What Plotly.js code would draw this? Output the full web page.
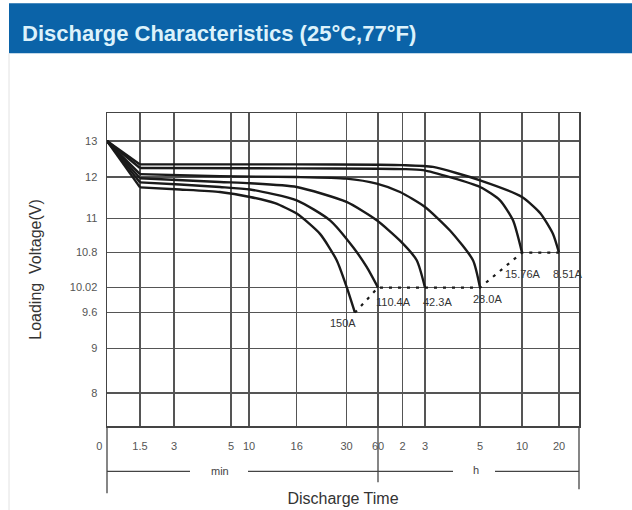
<!DOCTYPE html>
<html>
<head>
<meta charset="utf-8">
<script src="https://cdn.plot.ly/plotly-3.0.1.min.js"></script>
<style>
  html, body { margin: 0; padding: 0; background: #ffffff; }
  #chart { width: 632px; height: 510px; }
</style>
</head>
<body>
<div id="chart"></div>
<script>
// ---- axis definition (non-uniform scales of the original chart) ----
const xTickLabels  = ['0\u00a0\u00a0\u00a0\u00a0\u00a0', '1.5', '3', '5', '10', '16', '30', '60', '2', '3', '5', '10', '20'];
const xTickMinutes = [0, 1.5, 3, 5, 10, 16, 30, 60, 120, 180, 300, 600, 1200];
const xTickPos     = [0, 33, 67, 124, 142, 189.7, 239.5, 271, 295.5, 318, 373, 415, 452];
const xScaleEnd    = 472;

const yTickLabels = ['13', '12', '11', '10.8', '10.02', '9.6', '9', '8'];
const yTickVolts  = [13, 12, 11, 10.8, 10.02, 9.6, 9, 8];
const yTickPos    = [285, 249, 207.4, 173.4, 138.4, 113.4, 77.4, 33];
const yScaleEnd   = 313;

// ---- discharge curves: time in minutes, voltage in V ----
const curveNames = ['150A', '110.4A', '42.3A', '28.0A', '15.76A', '8.51A'];

const t150  = [0, 1.5, 3.21, 4.61, 10.13, 13.27, 16, 22.55, 27.24, 30.2, 38];
const v150  = [13, 11.75, 11.70, 11.64, 11.52, 11.37, 11.12, 10.91, 10.63, 10.03, 9.6];

const t110  = [0, 1.5, 3.21, 4.61, 10.13, 16, 25.36, 36.5, 49.2, 60];
const v110  = [13, 11.87, 11.82, 11.76, 11.70, 11.44, 10.99, 10.83, 10.48, 10.02];

const t42   = [0, 1.5, 4.61, 10.13, 16, 30, 58.8, 113.9, 157.9, 180];
const v42   = [13, 11.97, 11.88, 11.85, 11.76, 11.40, 10.99, 10.87, 10.63, 10.02];

const t28   = [0, 1.5, 4.61, 16, 30, 58.8, 113.9, 180, 234.5, 284.7, 300];
const v28   = [13, 12.08, 12.02, 12.0, 11.96, 11.84, 11.64, 11.28, 10.93, 10.63, 10.02];

const t1576 = [0, 1.5, 16, 60, 120, 174.7, 300, 442.9, 535.7, 600];
const v1576 = [13, 12.25, 12.24, 12.23, 12.22, 12.19, 11.76, 11.44, 10.99, 10.8];

const t851  = [0, 1.5, 16, 60, 120, 197.5, 300, 600, 896.8, 1102.7, 1200];
const v851  = [13, 12.35, 12.35, 12.34, 12.33, 12.28, 11.92, 11.52, 11.13, 10.91, 10.8];

const curveTimes = [t150, t110, t42, t28, t1576, t851];
const curveVolts = [v150, v110, v42, v28, v1576, v851];

// ---- piecewise scales ----
function interp(v, from, to) {
  const asc = from[from.length - 1] > from[0];
  for (let i = 0; i < from.length - 1; i++) {
    const a = from[i], b = from[i + 1];
    const inSeg = asc ? (v >= a && v <= b) : (v <= a && v >= b);
    if (inSeg) return to[i] + (v - a) / (b - a) * (to[i + 1] - to[i]);
  }
  const n = from.length;
  return to[n - 2] + (v - from[n - 2]) / (from[n - 1] - from[n - 2]) * (to[n - 1] - to[n - 2]);
}
const xScale = t => interp(t, xTickMinutes, xTickPos);
const yScale = v => interp(v, yTickVolts, yTickPos);

const FONT = 'Liberation Sans, Arial, Helvetica, sans-serif';
const CURVE = { color: '#1a1a1a', width: 2.4 };

const traces = [];
curveNames.forEach((name, i) => {
  const xs = curveTimes[i].map(xScale), ys = curveVolts[i].map(yScale);
  // initial drop (straight) up to the knee
  traces.push({
    type: 'scatter', mode: 'lines', name: name, x: xs.slice(0, 2), y: ys.slice(0, 2),
    line: Object.assign({ shape: 'linear' }, CURVE), hoverinfo: 'skip', showlegend: false
  });
  // discharge body (smooth)
  traces.push({
    type: 'scatter', mode: 'lines', name: name, x: xs.slice(1), y: ys.slice(1),
    line: Object.assign({ shape: 'spline', smoothing: 0.6 }, CURVE), hoverinfo: 'name', showlegend: false
  });
});

// end-voltage connecting line
const endX = curveTimes.map(a => xScale(a[a.length - 1]));
const endY = curveVolts.map(a => yScale(a[a.length - 1]));
traces.push({
  type: 'scatter', mode: 'lines', x: endX, y: endY,
  line: { color: '#1a1a1a', width: 2.2, dash: '3px,6px' },
  hoverinfo: 'skip', showlegend: false
});

// label offsets (pixels) from curve end points
const labelShiftX = [-12, 15, 12, 7, 1, 8];
const labelShiftY = [-10, -14, -14, -11, -21, -21];

const annotations = curveNames.map((name, i) => ({
  x: endX[i], y: endY[i], xref: 'x', yref: 'y', text: name, showarrow: false,
  xshift: labelShiftX[i], yshift: labelShiftY[i],
  font: { family: FONT, size: 11, color: '#333' }
}));

function py(p) { return (425.7 - p) / 313; }
function px(p) { return (p - 107) / 472; }

annotations.push(
  { xref: 'paper', yref: 'paper', x: px(220), y: py(471), text: 'min', showarrow: false,
    font: { family: FONT, size: 11, color: '#444' }, xanchor: 'center', yanchor: 'middle' },
  { xref: 'paper', yref: 'paper', x: px(475.7), y: py(470), text: 'h', showarrow: false,
    font: { family: FONT, size: 11, color: '#444' }, xanchor: 'center', yanchor: 'middle' }
);

const lineStyle = { color: '#444', width: 1.3 };
const shapes = [
  // title bar
  { type: 'rect', xref: 'paper', yref: 'paper', x0: px(9), x1: px(632), y0: py(53), y1: py(3),
    fillcolor: '#0b63a8', line: { width: 0 }, layer: 'below' },
  { type: 'line', xref: 'paper', yref: 'paper', x0: px(9), x1: px(9), y0: py(53), y1: py(510),
    line: { color: '#e2e2e2', width: 1 } },
  // unit bracket line under the axis
  { type: 'line', xref: 'paper', yref: 'paper', x0: 0, x1: px(190), y0: py(471), y1: py(471), line: lineStyle },
  { type: 'line', xref: 'paper', yref: 'paper', x0: px(248), x1: px(453), y0: py(471), y1: py(471), line: lineStyle },
  { type: 'line', xref: 'paper', yref: 'paper', x0: px(495), x1: 1, y0: py(471), y1: py(471), line: lineStyle },
  { type: 'line', xref: 'paper', yref: 'paper', x0: 0, x1: 0, y0: 0, y1: py(493), line: lineStyle },
  { type: 'line', xref: 'paper', yref: 'paper', x0: 1, x1: 1, y0: 0, y1: py(489), line: lineStyle },
  { type: 'line', xref: 'x', yref: 'paper', x0: xScale(60), x1: xScale(60), y0: 0, y1: py(482), line: lineStyle }
];

const layout = {
  width: 632, height: 510,
  margin: { l: 107, r: 53, t: 113, b: 84, pad: 0 },
  paper_bgcolor: '#ffffff', plot_bgcolor: '#ffffff',
  font: { family: FONT, color: '#444' },
  title: {
    text: '<b>Discharge Characteristics (25°C,77°F)</b>',
    xref: 'container', yref: 'container', x: 22 / 632, xanchor: 'left',
    y: 1 - 33 / 510, yanchor: 'middle',
    font: { family: FONT, size: 22, color: '#dcf2fb' }
  },
  xaxis: {
    range: [0, xScaleEnd], tickmode: 'array', tickvals: xTickPos, ticktext: xTickLabels,
    showgrid: true, gridcolor: '#555', gridwidth: 1.3, zeroline: false,
    showline: true, mirror: true, linecolor: '#444', linewidth: 1.5,
    ticks: 'outside', ticklen: 9, tickcolor: 'rgba(0,0,0,0)',
    tickfont: { family: FONT, size: 11, color: '#555' },
    title: { text: 'Discharge Time', standoff: 42, font: { family: FONT, size: 16, color: '#333' } },
    fixedrange: true
  },
  yaxis: {
    range: [0, yScaleEnd], tickmode: 'array', tickvals: yTickPos, ticktext: yTickLabels,
    showgrid: true, gridcolor: '#555', gridwidth: 1.3, zeroline: false,
    showline: true, mirror: true, linecolor: '#444', linewidth: 1.5,
    ticks: 'outside', ticklen: 6, tickcolor: 'rgba(0,0,0,0)',
    tickfont: { family: FONT, size: 11, color: '#555' },
    title: { text: 'Loading  Voltage(V)', standoff: 24, font: { family: FONT, size: 16, color: '#333' } },
    fixedrange: true
  },
  shapes: shapes,
  annotations: annotations,
  showlegend: false
};

Plotly.newPlot('chart', traces, layout, { displayModeBar: false, staticPlot: true });
</script>
</body>
</html>
